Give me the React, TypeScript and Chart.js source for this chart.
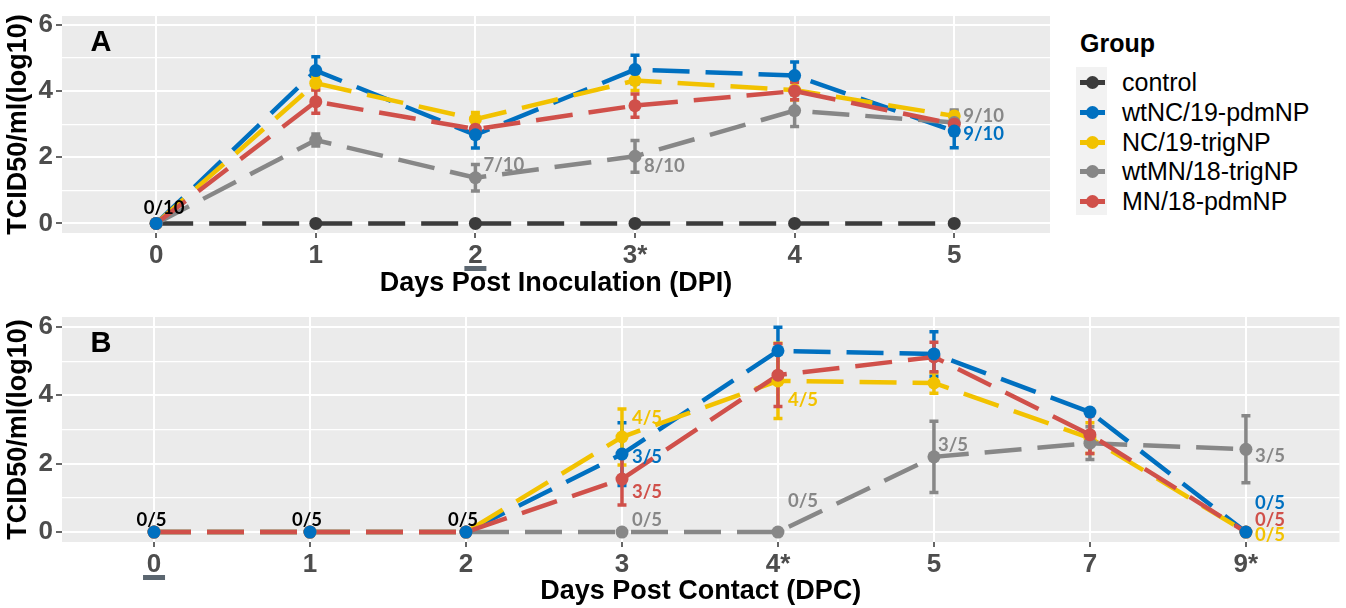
import React, { useEffect, useRef } from "react";
import { Chart, registerables } from "chart.js";
Chart.register(...registerables);

// ---------- groups ----------
const GROUPS = ["control", "wtNC/19-pdmNP", "NC/19-trigNP", "wtMN/18-trigNP", "MN/18-pdmNP"];
const GROUP_COLORS = ["#3b3b3b", "#0070c0", "#f2c200", "#878787", "#d0504a"];

// ---------- panel A : Days Post Inoculation ----------
const dpiLabels = ["0", "1", "2", "3*", "4", "5"];
const dpiControl = [0, 0, 0, 0, 0, 0];
const dpiWtNC = [0, 4.62, 2.68, 4.65, 4.47, 2.79];
const dpiWtNCErr = [0, 0.42, 0.4, 0.43, 0.41, 0.5];
const dpiNC = [0, 4.24, 3.15, 4.32, 4.03, 3.25];
const dpiNCErr = [0, 0.2, 0.2, 0.3, 0.3, 0.15];
const dpiWtMN = [0, 2.52, 1.38, 2.03, 3.41, 3.05];
const dpiWtMNErr = [0, 0.18, 0.4, 0.48, 0.48, 0.38];
const dpiMN = [0, 3.68, 2.85, 3.56, 4.0, 3.0];
const dpiMNErr = [0, 0.35, 0.25, 0.35, 0.26, 0.2];

// ---------- panel B : Days Post Contact ----------
const dpcLabels = ["0", "1", "2", "3", "4*", "5", "7", "9*"];
const dpcWtNC = [0, 0, 0, 2.28, 5.3, 5.21, 3.51, 0];
const dpcWtNCErr = [0, 0, 0, 0.92, 0.69, 0.65, 0.05, 0];
const dpcNC = [0, 0, 0, 2.78, 4.42, 4.36, 2.75, 0];
const dpcNCErr = [0, 0, 0, 0.82, 1.1, 0.3, 0.45, 0];
const dpcWtMN = [0, 0, 0, 0, 0, 2.2, 2.6, 2.42];
const dpcWtMNErr = [0, 0, 0, 0, 0, 1.04, 0.48, 0.98];
const dpcMN = [0, 0, 0, 1.55, 4.59, 5.12, 2.85, 0];
const dpcMNErr = [0, 0, 0, 0.76, 0.92, 0.43, 0.55, 0];

// ---------- y axis ticks ----------
const yTickValues = [0, 1, 2, 3, 4, 5, 6];
const yTickLabels = ["0", "", "2", "", "4", "", "6"];

// ---------- positive-animal annotations (group, x index, text) ----------
const dpiNotes = [
  { g: 0, i: 0, text: "0/10", color: "#000000", dx: 8, dy: -15.5, align: "center" },
  { g: 3, i: 2, text: "7/10", color: GROUP_COLORS[3], dx: 8, dy: -13, align: "left" },
  { g: 3, i: 3, text: "8/10", color: GROUP_COLORS[3], dx: 9, dy: 10, align: "left" },
  { g: 3, i: 5, text: "9/10", color: GROUP_COLORS[3], dx: 9, dy: -6, align: "left" },
  { g: 1, i: 5, text: "9/10", color: GROUP_COLORS[1], dx: 9, dy: 3, align: "left" },
];
const dpcNotes = [
  { g: 1, i: 0, text: "0/5", color: "#000000", dx: -2.5, dy: -12.5, align: "center" },
  { g: 1, i: 1, text: "0/5", color: "#000000", dx: -3, dy: -12.5, align: "center" },
  { g: 1, i: 2, text: "0/5", color: "#000000", dx: -3, dy: -12.5, align: "center" },
  { g: 2, i: 3, text: "4/5", color: GROUP_COLORS[2], dx: 10, dy: -18.5, align: "left" },
  { g: 1, i: 3, text: "3/5", color: GROUP_COLORS[1], dx: 10, dy: 2.5, align: "left" },
  { g: 4, i: 3, text: "3/5", color: GROUP_COLORS[4], dx: 10, dy: 12.5, align: "left" },
  { g: 3, i: 3, text: "0/5", color: GROUP_COLORS[3], dx: 10, dy: -12, align: "left" },
  { g: 2, i: 4, text: "4/5", color: GROUP_COLORS[2], dx: 10, dy: 19.5, align: "left" },
  { g: 3, i: 4, text: "0/5", color: GROUP_COLORS[3], dx: 10, dy: -31, align: "left" },
  { g: 3, i: 5, text: "3/5", color: GROUP_COLORS[3], dx: 4, dy: -12, align: "left" },
  { g: 3, i: 7, text: "3/5", color: GROUP_COLORS[3], dx: 9, dy: 7, align: "left" },
  { g: 1, i: 7, text: "0/5", color: GROUP_COLORS[1], dx: 9, dy: -29.5, align: "left" },
  { g: 4, i: 7, text: "0/5", color: GROUP_COLORS[4], dx: 9, dy: -12.5, align: "left" },
  { g: 2, i: 7, text: "0/5", color: GROUP_COLORS[2], dx: 9, dy: 3, align: "left" },
];

const FONT = "'Liberation Sans', Arial, sans-serif";
const NOTE_FONT = "bold 18.5px Lato, 'Liberation Sans', sans-serif";

type Series = { g: number; values: number[]; errors: number[] | null };

const panelA = {
  letter: "A",
  labels: dpiLabels,
  xTitle: "Days Post Inoculation (DPI)",
  series: [
    { g: 0, values: dpiControl, errors: null },
    { g: 1, values: dpiWtNC, errors: dpiWtNCErr },
    { g: 2, values: dpiNC, errors: dpiNCErr },
    { g: 3, values: dpiWtMN, errors: dpiWtMNErr },
    { g: 4, values: dpiMN, errors: dpiMNErr },
  ] as Series[],
  notes: dpiNotes,
  underline: 2,
  width: 1060,
  height: 300,
  padTop: 10,
  padRight: 10,
  xAxisHeight: 67,
  yMin: -0.29,
  yMax: 6.27,
};

const panelB = {
  letter: "B",
  labels: dpcLabels,
  xTitle: "Days Post Contact (DPC)",
  series: [
    { g: 1, values: dpcWtNC, errors: dpcWtNCErr },
    { g: 2, values: dpcNC, errors: dpcNCErr },
    { g: 3, values: dpcWtMN, errors: dpcWtMNErr },
    { g: 4, values: dpcMN, errors: dpcMNErr },
  ] as Series[],
  notes: dpcNotes,
  underline: 0,
  width: 1346,
  height: 308,
  padTop: 17,
  padRight: 4,
  xAxisHeight: 66,
  yMin: -0.29,
  yMax: 6.29,
};

const LINE_ORDER = [0, 1, 2, 3, 4];
const POINT_ORDER = [0, 2, 3, 4, 1];

function buildChart(canvas: HTMLCanvasElement, p: typeof panelA) {
  const datasets: any[] = [];
  LINE_ORDER.forEach((g, k) => {
    const s = p.series.find((x) => x.g === g);
    if (!s) return;
    datasets.push({
      label: GROUPS[g],
      data: s.values.map((y, i) => ({ x: i, y })),
      borderColor: GROUP_COLORS[g],
      backgroundColor: GROUP_COLORS[g],
      borderWidth: 4.5,
      borderDash: [37, 16],
      borderCapStyle: "butt",
      pointRadius: 0,
      tension: 0,
      fill: false,
      order: 100 - k,
      isLastLine: g === 4,
    });
  });
  POINT_ORDER.forEach((g, k) => {
    const s = p.series.find((x) => x.g === g);
    if (!s) return;
    datasets.push({
      label: GROUPS[g] + " points",
      data: s.values.map((y, i) => ({ x: i, y })),
      showLine: false,
      borderColor: GROUP_COLORS[g],
      backgroundColor: GROUP_COLORS[g],
      pointBackgroundColor: GROUP_COLORS[g],
      pointBorderWidth: 0,
      pointRadius: 6.5,
      order: 50 - k,
    });
  });

  const panelPlugin = {
    id: "panelDecor",
    beforeDraw(chart: any) {
      const { ctx, chartArea } = chart;
      ctx.save();
      ctx.fillStyle = "#ebebeb";
      ctx.fillRect(chartArea.left, chartArea.top, chartArea.right - chartArea.left, chartArea.bottom - chartArea.top);
      ctx.restore();
    },
    afterDatasetDraw(chart: any, args: any) {
      const ds = chart.data.datasets[args.index];
      if (!ds || !ds.isLastLine) return;
      const { ctx } = chart;
      const xs = chart.scales.x;
      const ys = chart.scales.y;
      ctx.save();
      LINE_ORDER.forEach((g) => {
        const s = p.series.find((x) => x.g === g);
        if (!s || !s.errors) return;
        ctx.strokeStyle = GROUP_COLORS[g];
        ctx.lineWidth = 3.5;
        ctx.lineCap = "butt";
        s.values.forEach((v, i) => {
          const e = s.errors![i];
          if (!e) return;
          const px = xs.getPixelForValue(i);
          const t = ys.getPixelForValue(v + e);
          const b = ys.getPixelForValue(v - e);
          ctx.beginPath();
          ctx.moveTo(px, t);
          ctx.lineTo(px, b);
          ctx.moveTo(px - 4.5, t);
          ctx.lineTo(px + 4.5, t);
          ctx.moveTo(px - 4.5, b);
          ctx.lineTo(px + 4.5, b);
          ctx.stroke();
        });
      });
      ctx.restore();
    },
    afterDraw(chart: any) {
      const { ctx, chartArea } = chart;
      const xs = chart.scales.x;
      const ys = chart.scales.y;
      ctx.save();
      // annotations
      ctx.font = NOTE_FONT;
      ctx.textBaseline = "middle";
      p.notes.forEach((n) => {
        const s = p.series.find((x) => x.g === n.g);
        const v = s ? s.values[n.i] : 0;
        ctx.fillStyle = n.color;
        ctx.textAlign = n.align as CanvasTextAlign;
        ctx.fillText(n.text, xs.getPixelForValue(n.i) + n.dx, ys.getPixelForValue(v) + n.dy);
      });
      // panel letter
      ctx.font = `bold 29px ${FONT}`;
      ctx.fillStyle = "#000";
      ctx.textAlign = "center";
      ctx.fillText(p.letter, chartArea.left + 39, chartArea.top + 27);
      // underline mark below highlighted tick
      ctx.fillStyle = "#5b6670";
      const ux = xs.getPixelForValue(p.underline);
      ctx.fillRect(ux - 11, chartArea.bottom + 33, 22, 5);
      ctx.restore();
    },
  };

  const n = p.labels.length;
  return new Chart(canvas, {
    type: "line",
    data: { datasets },
    plugins: [panelPlugin],
    options: {
      animation: false,
      responsive: false,
      devicePixelRatio: 1,
      events: [],
      layout: { padding: { top: p.padTop, right: p.padRight, bottom: 0, left: 0 } },
      plugins: { legend: { display: false }, tooltip: { enabled: false } },
      scales: {
        x: {
          type: "linear",
          min: -0.59,
          max: n - 1 + 0.6,
          afterBuildTicks: (sc: any) => {
            sc.ticks = p.labels.map((_, i) => ({ value: i }));
          },
          afterFit: (sc: any) => {
            sc.height = p.xAxisHeight;
          },
          ticks: {
            autoSkip: false,
            maxRotation: 0,
            minRotation: 0,
            padding: 5,
            color: "#4d4d4d",
            font: { family: FONT, size: 26, weight: "bold", lineHeight: 1 },
            callback: (_v: any, i: number) => p.labels[i],
          },
          grid: { color: "#ffffff", lineWidth: 2, drawTicks: true, tickLength: 5, tickColor: "#333333", tickWidth: 1.5 },
          border: { display: false },
          title: {
            display: true,
            text: p.xTitle,
            color: "#000000",
            font: { family: FONT, size: 27, weight: "bold" },
            padding: { top: 0, bottom: 0 },
          },
        },
        y: {
          type: "linear",
          min: p.yMin,
          max: p.yMax,
          afterBuildTicks: (sc: any) => {
            sc.ticks = yTickValues.map((v) => ({ value: v }));
          },
          afterFit: (sc: any) => {
            sc.width = 62;
          },
          ticks: {
            padding: 3,
            color: "#4d4d4d",
            font: { family: FONT, size: 26, weight: "bold", lineHeight: 1 },
            callback: (_v: any, i: number) => yTickLabels[i],
          },
          grid: {
            color: "#ffffff",
            lineWidth: (c: any) => (c.tick && c.tick.value % 2 === 0 ? 2 : 1.2),
            drawTicks: true,
            tickLength: 6,
            tickWidth: 1.5,
            tickColor: (c: any) => (c.tick && c.tick.value % 2 === 0 ? "#333333" : "rgba(0,0,0,0)"),
          },
          border: { display: false },
          title: {
            display: true,
            text: "TCID50/ml(log10)",
            color: "#000000",
            font: { family: FONT, size: 27, weight: "bold" },
            padding: { top: 2, bottom: 0 },
          },
        },
      },
    } as any,
  });
}

function Panel({ p, top }: { p: typeof panelA; top: number }) {
  const ref = useRef<HTMLCanvasElement>(null);
  useEffect(() => {
    if (!ref.current) return;
    const c = buildChart(ref.current, p);
    return () => c.destroy();
  }, [p]);
  return (
    <canvas
      ref={ref}
      width={p.width}
      height={p.height}
      style={{ position: "absolute", left: 0, top, width: p.width, height: p.height, display: "block" }}
    />
  );
}

const LEGEND_Y = [82, 112, 142, 171, 201];

function Legend() {
  return (
    <div style={{ position: "absolute", left: 0, top: 0, fontFamily: FONT }}>
      <div
        style={{
          position: "absolute",
          left: 1080,
          top: 28,
          fontSize: 25,
          fontWeight: "bold",
          lineHeight: "30px",
          color: "#000",
          whiteSpace: "nowrap",
        }}
      >
        Group
      </div>
      <div style={{ position: "absolute", left: 1076, top: 67, width: 31, height: 148, background: "#f2f2f2" }} />
      {GROUPS.map((g, k) => (
        <React.Fragment key={g}>
          <div
            style={{
              position: "absolute",
              left: 1080,
              top: LEGEND_Y[k] - 2.5,
              width: 25,
              height: 5,
              background: GROUP_COLORS[k],
            }}
          />
          <div
            style={{
              position: "absolute",
              left: 1086,
              top: LEGEND_Y[k] - 6.5,
              width: 13,
              height: 13,
              borderRadius: "50%",
              background: GROUP_COLORS[k],
            }}
          />
          <div
            style={{
              position: "absolute",
              left: 1122,
              top: LEGEND_Y[k] - 15,
              fontSize: 25,
              lineHeight: "30px",
              color: "#000",
              whiteSpace: "nowrap",
            }}
          >
            {g}
          </div>
        </React.Fragment>
      ))}
    </div>
  );
}

export default function App() {
  return (
    <div style={{ position: "absolute", left: 0, top: 0, width: 1346, height: 608, background: "#ffffff", overflow: "hidden" }}>
      <Panel p={panelA} top={0} />
      <Panel p={panelB} top={300} />
      <Legend />
    </div>
  );
}
